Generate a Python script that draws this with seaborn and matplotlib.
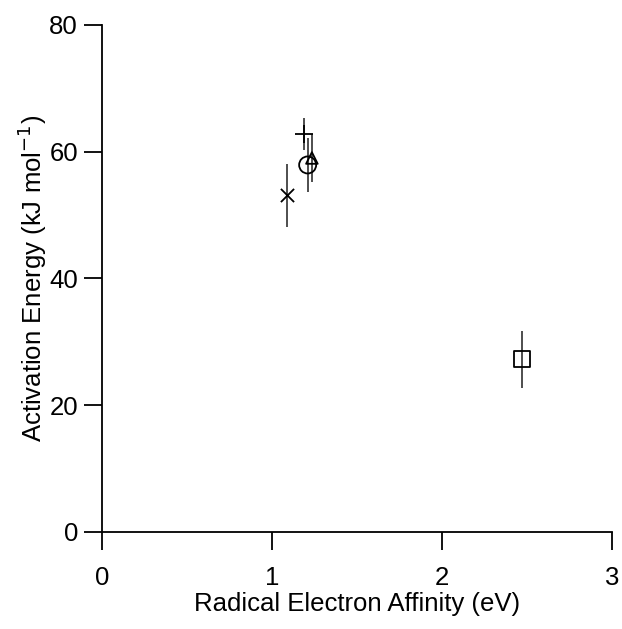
import numpy as np
import matplotlib
matplotlib.use("Agg")
import matplotlib.pyplot as plt
import seaborn as sns

affinity = [1.19, 1.21, 1.235, 1.088, 2.47]
energy = [62.8, 57.9, 59.0, 53.1, 27.2]
energy_err = [2.5, 4.2, 3.8, 5.0, 4.5]
markers = ['+', 'o', '^', 'x', 's']
sizes = [150, 150, 70, 90, 130]

sns.set_style("ticks")
plt.rcParams['font.family'] = ['Liberation Sans', 'DejaVu Sans']
plt.rcParams['axes.labelcolor'] = 'black'
plt.rcParams['text.color'] = 'black'

fig = plt.figure(figsize=(6.22, 6.29), dpi=100)
ax = fig.add_axes([0.1635, 0.1547, 0.8209, 0.8056])

ax.errorbar(affinity, energy, yerr=energy_err, fmt='none',
            ecolor='#404040', elinewidth=1.3, capsize=0, zorder=1)

for x, y, m, s in zip(affinity, energy, markers, sizes):
    if m in ('+', 'x'):
        sns.scatterplot(x=[x], y=[y], marker=m, s=s, color='black',
                        linewidth=1.3, ax=ax, zorder=3)
    else:
        sns.scatterplot(x=[x], y=[y], marker=m, s=s, facecolor='none',
                        edgecolor='black', linewidth=1.3, ax=ax, zorder=3)

ax.set_xlim(0, 3)
ax.set_ylim(0, 80)
ax.set_xticks([0, 1, 2, 3])
ax.set_yticks([0, 20, 40, 60, 80])
sns.despine(ax=ax)
for sp in ax.spines.values():
    sp.set_linewidth(1.3)
    sp.set_color('black')
ax.tick_params(axis='both', direction='out', length=13, width=1.3,
               labelsize=18.5, pad=4, colors='black')
ax.tick_params(axis='x', pad=12)
ax.set_xlabel('Radical Electron Affinity (eV)', fontsize=18.5, labelpad=1)
ax.set_ylabel('Activation Energy (kJ mol$^{-1}$)', fontsize=18.5, labelpad=0)

fig.savefig('out.png', dpi=100)
